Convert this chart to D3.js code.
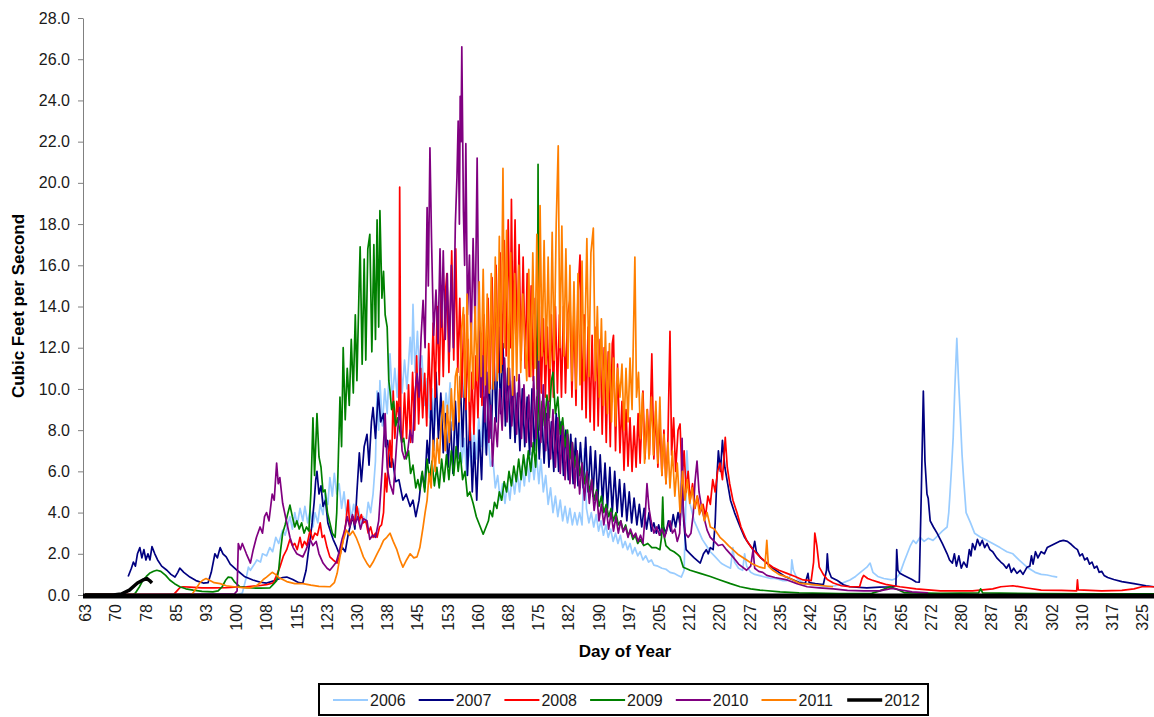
<!DOCTYPE html>
<html>
<head>
<meta charset="utf-8">
<script src="https://cdn.jsdelivr.net/npm/d3@7"></script>
<style>
  html, body { margin: 0; padding: 0; background: #fff; }
  svg { display: block; }
</style>
</head>
<body>
<script>
// ---------------- DATA (day of year, cubic feet per second) ----------------
const seriesNames = ["2006", "2007", "2008", "2009", "2010", "2011", "2012"];
const xTickLabels = [63,70,78,85,93,100,108,115,123,130,138,145,153,160,168,175,182,190,197,205,212,220,227,235,242,250,257,265,272,280,287,295,302,310,317,325];
const yTickValues = [0,2,4,6,8,10,12,14,16,18,20,22,24,26,28];

const s2006 = [[63,0],[101,0.02],[102,0.1],[103,0.87],[103.5,1.35],[104,1.2],[105,1.5],[105.6,1.7],[106.5,1.6],[107,2.0],[108,1.9],[108.8,2.3],[109.5,2.1],[110.3,2.8],[111,2.5],[112,3.15],[112.6,2.9],[113.8,3.8],[114.4,3.2],[115,4.0],[115.6,3.4],[116.3,4.2],[117,3.6],[117.5,4.3],[118.2,3.5],[118.8,4.1],[119.5,3.3],[120,4.0],[120.7,3.5],[121.3,4.4],[122,3.9],[122.5,5.0],[123.2,4.4],[123.7,5.7],[124.3,4.8],[124.8,5.9],[125.4,4.9],[126,5.4],[126.6,4.2],[127.2,5.0],[127.8,3.9],[128.4,4.6],[129,3.7],[129.6,4.4],[130.2,3.6],[130.8,4.2],[131.4,3.4],[132,3.8],[132.6,3.5],[133.2,4.5],[133.8,4.0],[134.4,4.9],[135,6.5],[135.4,9.9],[135.8,8.0],[136.1,10.4],[136.7,8.2],[137.3,10.0],[137.9,8.8],[138.6,11.7],[139.2,9.5],[139.8,11.0],[140.4,9.6],[141,12.0],[141.6,9.8],[142.2,11.4],[142.8,10.0],[143.6,12.5],[144,11.2],[144.3,14.1],[144.8,10.8],[145.4,12.8],[146,10.2],[146.5,11.6],[147.2,9.2],[147.8,10.5],[148.4,8.6],[149,10.0],[149.6,8.2],[150.2,9.4],[150.8,8.0],[151.3,9.6],[151.9,8.4],[152.5,9.8],[153,8.8],[153.5,10.3],[154.1,8.2],[154.7,9.0],[155.2,6.8],[155.8,8.4],[156.4,6.4],[157,7.6],[157.6,5.8],[158.2,7.2],[158.8,6.2],[159.4,8.0],[160,6.6],[160.6,8.6],[161.2,7.2],[161.7,9.1],[162.3,6.9],[162.9,7.8],[163.5,6.25],[164.1,6.6],[164.7,5.2],[165.3,5.8],[165.9,4.6],[166.5,5.4],[167.1,4.45],[167.7,5.4],[168.3,4.6],[168.9,5.8],[169.5,4.9],[170.1,6.0],[170.7,5.0],[171.3,6.25],[171.9,5.3],[172.5,6.6],[173.1,5.5],[173.7,6.9],[174.3,5.6],[174.9,6.8],[175.5,5.4],[176,6.6],[176.6,5.0],[177.2,5.8],[177.8,4.4],[178.4,5.2],[179,4.0],[179.6,4.8],[180.2,3.8],[180.8,4.6],[181.4,3.6],[182,4.3],[182.6,3.5],[183.2,4.2],[183.8,3.4],[184.4,4.0],[185,3.4],[185.6,4.0],[186.2,3.4],[186.8,7.1],[187.3,4.2],[187.9,3.5],[188.5,4.0],[189.1,3.3],[189.7,3.9],[190.3,3.1],[190.9,3.6],[191.5,2.9],[192.1,3.4],[192.7,2.8],[193.3,3.2],[193.9,2.6],[194.5,3.0],[195.1,2.5],[195.7,2.9],[196.3,2.3],[196.9,2.6],[197.5,2.2],[198.1,2.5],[198.7,2.0],[199.3,2.3],[200,1.9],[200.6,2.1],[201.3,1.7],[202,1.9],[202.7,1.6],[203.4,1.7],[204,1.45],[205,1.4],[206,1.3],[207,1.25],[208,1.1],[209,1.05],[210,0.95],[210.8,0.87],[211.5,1.2],[212,5.0],[212.2,7.0],[212.6,5.5],[213,4.4],[214,3.6],[215,3.15],[216,2.7],[217,2.4],[218,2.1],[219,1.9],[220.4,1.6],[221,1.5],[222,1.4],[223,1.3],[223.6,2.3],[224,1.6],[225,1.3],[226,1.2],[226.5,2.0],[227,1.4],[228,1.1],[229,1.0],[230,0.95],[231,0.9],[232,0.85],[233,0.8],[234,0.8],[235,0.75],[236,0.7],[237,0.7],[238,1.0],[238.2,1.7],[238.6,1.2],[239.5,0.8],[241,0.6],[243,0.5],[245,0.45],[247,0.4],[249,0.45],[251,0.6],[252.6,0.73],[254,0.9],[255.5,1.15],[256.8,1.35],[257.6,1.55],[258.3,1.1],[259.5,0.9],[261,0.8],[263,0.73],[264,0.8],[265,1.05],[266,1.6],[266.8,2.0],[267.6,2.4],[268.3,2.65],[269,2.5],[270,2.8],[271,2.6],[272,2.75],[273.2,2.65],[274.5,2.9],[275.5,3.1],[276.7,3.3],[277.1,4.0],[277.4,4.9],[277.8,6.2],[278.2,7.65],[278.6,10.0],[279.1,12.45],[279.5,10.5],[280,8.5],[280.4,6.8],[280.8,5.6],[281.4,4.0],[282.5,3.5],[283.5,3.0],[285,2.8],[286.6,2.65],[288,2.5],[289.8,2.3],[291.5,2.1],[293,2.0],[294.5,1.7],[296.5,1.35],[298.5,1.1],[300,1.0],[301.5,0.97],[303,0.9],[304,0.87]];

const s2007 = [[73.7,0.9],[74.5,1.3],[75,1.6],[75.5,1.4],[76,2.0],[76.6,2.3],[77.1,1.8],[77.6,2.2],[78.1,1.7],[78.6,2.0],[79.1,1.7],[79.6,2.35],[80.3,2.0],[81,1.7],[82,1.4],[83.3,1.2],[84.3,1.0],[85.3,0.87],[86,1.1],[86.5,1.3],[87.5,1.1],[89,0.87],[90.5,0.7],[92.3,0.58],[93.5,0.6],[94.3,1.1],[95.2,2.0],[95.8,1.8],[96.5,2.3],[97.2,2.0],[98,1.85],[99,1.5],[100.7,1.2],[102.5,0.9],[104.6,0.73],[106.5,0.62],[108,0.58],[110,0.7],[112,0.85],[113,0.87],[114.5,0.75],[116,0.6],[117,0.58],[117.8,1.2],[118.3,2.0],[118.8,2.7],[119.3,3.5],[119.8,4.5],[120.2,5.6],[120.5,6.0],[121,4.9],[121.5,5.3],[122,4.3],[122.6,4.6],[123.2,3.5],[124,3.0],[124.5,2.7],[125.2,2.4],[126,2.0],[126.8,2.3],[127.5,2.1],[128.2,2.9],[128.8,3.4],[129.4,3.8],[129.9,3.2],[130.4,5.0],[131,6.9],[131.5,5.5],[132.2,7.2],[132.9,7.8],[133.4,6.3],[134,8.4],[134.4,9.1],[135,7.6],[135.7,9.8],[136.3,8.4],[137,8.8],[137.5,7.2],[138,7.5],[138.6,6.2],[139.2,6.6],[140,5.5],[140.8,5.6],[141.8,4.6],[142.6,4.9],[143.6,4.3],[144.3,4.6],[145,3.8],[145.8,4.6],[146.5,5.9],[147.2,5.2],[147.8,7.5],[148.3,6.4],[148.8,9.6],[149.4,7.0],[150,10.8],[150.6,7.6],[151.2,9.8],[151.8,6.9],[152.4,8.8],[153,6.2],[153.6,8.4],[154.2,5.9],[154.8,9.4],[155.4,6.6],[156,10.6],[156.6,7.2],[157.2,11.0],[157.8,5.8],[158.4,8.6],[159,5.0],[159.5,7.4],[160.1,4.6],[160.7,8.0],[161.3,5.6],[161.9,9.6],[162.5,6.8],[163.1,11.0],[163.7,7.6],[164.3,12.0],[164.9,8.4],[165.5,13.0],[166,8.8],[166.6,12.2],[167.2,8.2],[167.8,11.0],[168.4,7.6],[169,10.4],[169.6,7.4],[170.2,9.8],[170.8,7.0],[171.4,10.0],[172,7.2],[172.6,9.6],[173.2,6.8],[173.8,10.0],[174.4,7.0],[175,9.6],[175.6,6.6],[176.2,9.0],[176.8,6.4],[177.4,8.8],[178,6.2],[178.6,8.4],[179.2,6.0],[179.8,8.8],[180.4,6.0],[181,8.4],[181.6,5.8],[182.2,8.0],[182.8,5.6],[183.4,7.8],[184,5.4],[184.6,7.6],[185.2,5.3],[185.8,7.4],[186.5,5.2],[187.1,7.65],[187.7,5.0],[188.3,7.2],[188.9,4.8],[189.5,7.0],[190.1,4.6],[190.7,6.8],[191.3,4.4],[191.9,6.4],[192.5,4.2],[193.1,6.2],[193.7,4.0],[194.3,6.0],[194.9,4.0],[195.5,5.6],[196.1,3.8],[196.7,5.4],[197.3,3.6],[197.9,5.0],[198.5,3.5],[199.1,4.7],[199.8,3.4],[200.4,4.4],[201,3.3],[201.6,4.2],[202.2,3.2],[202.8,4.0],[203.4,3.1],[204,3.5],[204.6,3.0],[205.2,3.4],[205.8,2.9],[206.4,3.3],[207,3.0],[207.6,3.6],[208.2,3.1],[208.8,3.9],[209.4,3.3],[210,4.0],[210.5,3.4],[211,5.9],[211.4,3.6],[212,2.2],[213,2.0],[214,1.8],[215.5,1.55],[216.3,2.0],[217,2.2],[217.5,2.0],[218,2.3],[218.7,2.2],[219.2,3.5],[219.6,5.6],[220,7.0],[220.5,6.0],[221,7.5],[221.6,6.2],[222.3,5.4],[223,4.6],[224,4.0],[225.4,3.3],[226.5,2.8],[227.5,2.5],[228.6,2.2],[229,2.6],[229.4,2.1],[230.5,1.8],[232,1.55],[233.5,1.3],[235,1.1],[236.5,0.9],[238,0.78],[240,0.62],[241.5,0.55],[242.2,1.05],[242.5,0.6],[244,0.55],[246,0.5],[246.8,1.2],[247,2.0],[247.3,1.2],[248,0.85],[249.5,0.7],[251,0.5],[252.6,0.4],[256.8,0.35],[260,0.38],[263,0.4],[264,0.45],[264.2,2.2],[264.5,1.2],[265,1.05],[266,0.95],[267,0.85],[268,0.75],[269,0.63],[269.8,0.62],[270.3,5.0],[270.8,9.9],[271.2,6.5],[271.7,4.9],[272,4.7],[272.5,3.6],[273.3,3.3],[274.2,3.0],[275.5,2.5],[276.7,2.0],[277.3,1.7],[278,1.55],[278.5,2.0],[279,1.4],[279.6,1.9],[280.2,1.3],[280.8,1.6],[281.6,1.35],[282.2,2.2],[282.6,1.9],[283,2.5],[283.6,2.2],[284.2,2.7],[284.8,2.4],[285.4,2.65],[286,2.3],[286.6,2.5],[287.3,2.2],[288,2.1],[289,1.8],[290,1.6],[290.6,1.5],[291.4,1.3],[292,1.5],[292.6,1.1],[293.2,1.3],[294,1.05],[294.8,1.2],[295.5,1.0],[296.5,1.35],[297.2,1.4],[297.6,1.9],[298,1.5],[298.6,2.1],[299.2,1.8],[300,2.1],[300.8,2.0],[301.5,2.3],[302.5,2.4],[303.5,2.5],[304.5,2.6],[305.5,2.65],[306.5,2.6],[307.5,2.45],[308.3,2.3],[309,2.2],[309.6,1.9],[310.2,2.0],[310.8,1.7],[311.4,1.8],[312,1.5],[312.6,1.6],[313.2,1.3],[313.8,1.4],[314.4,1.1],[315,1.15],[315.6,0.95],[316.5,0.85],[318,0.75],[320,0.65],[323,0.55],[326,0.45],[328,0.4]];

const s2008 = [[63,0.02],[85,0.03],[85.8,0.2],[86.5,0.35],[87.3,0.4],[89,0.38],[92,0.35],[95,0.35],[98,0.36],[100,0.38],[103,0.4],[106,0.45],[108,0.5],[109.6,0.58],[110.4,0.9],[111.3,1.35],[112.2,1.9],[113,2.2],[113.8,2.7],[114.4,2.4],[115,2.5],[115.6,2.2],[116.3,2.8],[116.8,2.3],[117.4,2.6],[118,2.4],[118.8,3.15],[119.4,2.7],[120,3.0],[120.6,2.9],[121.3,3.5],[121.8,2.8],[122.3,2.9],[123,2.3],[123.7,1.85],[124.5,1.7],[125.5,1.55],[126.3,2.0],[127,2.7],[127.6,3.4],[128.2,4.6],[128.6,3.4],[129.2,3.8],[129.8,3.5],[130.4,4.3],[131,3.6],[131.5,3.9],[132,3.5],[132.6,3.6],[133.2,3.0],[133.8,3.3],[134.4,2.8],[135,3.0],[135.4,2.8],[136,3.3],[136.5,3.4],[137,4.0],[137.4,5.9],[137.8,5.0],[138.2,6.8],[138.6,7.5],[139,6.2],[139.4,9.9],[139.8,7.6],[140.3,9.4],[140.8,8.6],[141,19.8],[141.3,8.0],[141.7,7.5],[142.2,9.8],[142.7,7.6],[143.2,10.2],[143.7,7.4],[144.2,10.8],[144.7,8.0],[145.2,11.6],[145.7,8.3],[146.2,11.0],[146.7,8.6],[147.2,10.75],[147.7,8.2],[148.2,12.2],[148.7,9.0],[149.3,13.2],[149.8,9.6],[150.3,14.0],[150.8,10.2],[151.3,15.0],[151.8,10.6],[152.3,14.6],[152.7,15.6],[153.2,10.8],[153.9,16.7],[154.4,11.4],[154.9,16.8],[155.4,10.8],[155.9,14.4],[156.4,9.6],[156.9,13.6],[157.4,9.0],[157.9,12.4],[158.4,7.5],[158.9,10.8],[159.4,7.8],[159.9,11.6],[160.4,8.6],[160.9,12.8],[161.4,9.2],[161.9,13.6],[162.4,9.6],[162.9,14.4],[163.4,10.0],[163.9,15.4],[164.4,10.4],[164.9,16.0],[165.4,10.8],[165.9,16.6],[166.4,11.2],[166.9,17.2],[167.4,11.6],[167.9,18.2],[168.4,12.0],[168.7,19.2],[169.1,12.2],[169.6,18.2],[170.1,11.8],[170.6,17.0],[171.1,11.4],[171.6,16.4],[172.1,11.0],[172.6,15.6],[173.1,10.6],[173.6,15.0],[174.1,10.4],[174.6,14.4],[175.1,10.0],[175.6,14.0],[176.1,9.8],[176.6,13.4],[177.1,9.6],[177.6,13.0],[178.1,9.4],[178.6,13.6],[179.1,9.6],[179.6,14.0],[180.1,9.8],[180.6,13.6],[181.1,9.6],[181.6,14.0],[182.1,9.8],[182.6,13.6],[183.2,14.3],[183.7,9.6],[184.2,13.8],[184.7,9.2],[185.2,14.6],[185.7,16.5],[186.2,9.0],[186.7,13.6],[187.2,8.6],[187.7,13.0],[188.2,8.4],[188.7,12.6],[189.2,8.0],[189.7,13.0],[190.2,8.2],[190.7,12.4],[191.2,7.8],[191.7,12.0],[192.2,7.4],[192.7,11.8],[193.2,7.2],[193.7,12.2],[194,12.6],[194.5,7.0],[195,11.2],[195.6,6.9],[196.1,9.4],[196.6,6.05],[197.1,9.0],[197.6,6.25],[198.1,8.6],[198.6,6.0],[199.1,8.2],[199.6,6.2],[200.1,8.8],[200.6,6.4],[201.3,9.9],[201.8,6.6],[202.4,9.0],[202.9,6.8],[203.5,11.7],[204,6.6],[204.5,9.0],[205,6.2],[205.5,8.4],[206,5.8],[206.5,8.0],[207,5.4],[207.5,7.6],[208,12.8],[208.4,6.8],[208.9,8.6],[209.4,6.0],[210,8.0],[210.5,8.3],[211,5.6],[211.5,7.0],[212,5.0],[212.5,6.0],[213,4.6],[213.6,5.4],[214.2,4.2],[214.8,4.8],[215.5,4.0],[216.2,4.4],[216.8,3.8],[217.4,4.8],[218,4.4],[218.6,5.6],[219.2,5.0],[219.8,6.0],[220.4,6.4],[221,5.6],[221.7,7.65],[222.2,6.2],[222.8,5.4],[223.6,4.6],[224.6,4.0],[225.6,3.3],[227,2.65],[228.6,2.2],[230.3,1.85],[232,1.55],[233.5,1.35],[235,1.2],[237,1.05],[239,0.9],[241,0.73],[243,0.7],[243.6,1.6],[243.9,3.0],[244.4,2.4],[245,1.35],[246,1.0],[247,0.75],[248.5,0.58],[250.5,0.45],[252.6,0.4],[255,0.4],[255.6,0.8],[256,0.95],[257,0.8],[258,0.73],[260,0.6],[261.8,0.5],[263.5,0.45],[265,0.4],[269,0.3],[275,0.2],[283,0.2],[288,0.3],[290,0.4],[293,0.45],[296.5,0.34],[300,0.24],[305,0.22],[308.8,0.2],[309,0.73],[309.2,0.25],[315,0.2],[320,0.22],[323,0.3],[325,0.4],[328,0.4]];

const s2009 = [[63,0.02],[75,0.03],[75.5,0.1],[76.5,0.4],[77.4,0.73],[78.2,0.9],[79,1.05],[80,1.15],[80.8,1.2],[81.8,1.15],[83,0.95],[84,0.73],[85.2,0.55],[86.5,0.4],[88,0.3],[89.8,0.24],[92,0.18],[94.7,0.15],[96,0.2],[97,0.4],[97.8,0.7],[98.5,0.87],[99.3,0.85],[100,0.65],[101.4,0.4],[103,0.36],[104.6,0.34],[106.5,0.33],[108.8,0.34],[109.6,0.5],[110.5,0.7],[111,1.2],[111.5,2.2],[112,3.0],[112.6,3.4],[113.2,3.9],[113.8,4.36],[114.4,3.8],[115,3.3],[115.5,3.6],[116.1,3.2],[116.7,3.5],[117.3,3.0],[117.9,3.3],[118.5,3.1],[119,5.0],[119.5,8.6],[119.9,5.8],[120.5,8.8],[121,6.7],[121.5,6.2],[122,5.0],[122.5,5.1],[123.1,4.0],[123.7,3.5],[124.3,3.0],[125,2.8],[125.4,4.0],[125.7,5.9],[126.2,9.6],[126.6,7.2],[127,12.0],[127.5,8.5],[128,11.0],[128.5,9.2],[129,12.4],[129.5,9.8],[130,13.6],[130.4,10.4],[130.9,14.6],[131.2,16.9],[131.7,11.2],[132.2,16.3],[132.6,11.4],[133.1,16.8],[133.6,17.5],[134.1,11.8],[134.6,17.0],[135,12.4],[135.4,18.2],[135.8,13.0],[136.1,18.65],[136.6,14.4],[137,15.7],[137.4,13.6],[137.9,13.0],[138.3,10.4],[138.6,9.9],[139,9.0],[139.5,9.4],[140,8.2],[140.5,8.6],[141,8.0],[141.5,7.4],[142,7.6],[142.6,6.6],[143.2,7.0],[143.7,5.9],[144.3,6.3],[145,5.2],[145.5,5.6],[146,5.1],[146.6,6.0],[147.2,5.0],[147.8,6.6],[148.4,5.6],[149,6.5],[149.6,5.3],[150.2,6.2],[150.8,5.2],[151.4,6.6],[152,5.5],[152.6,6.8],[153.2,5.6],[153.8,7.0],[154.4,5.8],[155,7.2],[155.5,6.0],[156,6.9],[156.6,5.6],[157.2,6.0],[157.8,4.8],[158.4,5.0],[159.2,4.45],[160,3.8],[160.8,3.4],[161.7,2.95],[162.4,3.3],[163,3.6],[163.4,4.1],[164,3.8],[164.5,4.5],[165.1,4.2],[165.7,5.0],[166.3,4.6],[166.9,5.5],[167.5,5.0],[168.1,6.0],[168.7,5.3],[169.3,6.25],[169.9,5.5],[170.5,6.6],[171.1,5.6],[171.7,6.8],[172.3,5.8],[172.9,7.0],[173.5,6.0],[174.1,7.4],[174.7,6.2],[175.1,8.0],[175.3,20.9],[175.5,9.0],[175.8,8.0],[176.3,9.4],[176.9,8.2],[177.5,9.7],[178.1,8.6],[178.6,10.4],[179,10.8],[179.6,8.8],[180.2,9.6],[180.8,7.8],[181.4,8.6],[182,7.2],[182.6,8.0],[183.2,6.6],[183.8,7.4],[184.4,6.2],[185,6.9],[185.6,5.8],[186.2,6.4],[186.8,5.4],[187.4,6.0],[188,5.0],[188.6,5.6],[189.2,4.6],[189.8,5.1],[190.4,4.3],[191,4.8],[191.6,4.0],[192.2,4.4],[192.8,3.8],[193.4,4.2],[194,3.6],[194.6,4.0],[195.2,3.4],[195.8,3.6],[196.4,3.1],[197,3.4],[197.6,2.9],[198.2,3.1],[198.8,2.7],[199.4,2.9],[200,2.5],[200.6,2.7],[201.5,2.4],[202.5,2.5],[203.5,2.3],[204.5,2.3],[205.5,2.2],[205.9,2.8],[206.2,4.75],[206.5,2.9],[207,2.4],[208,2.2],[209,2.1],[210,1.95],[210.5,1.85],[211.3,1.35],[213,1.2],[215.5,1.05],[218,0.9],[220.4,0.73],[223,0.55],[225.4,0.4],[228,0.3],[230.3,0.24],[235.3,0.15],[240,0.1],[250,0.07],[258,0.08],[260,0.2],[262.5,0.4],[264,0.3],[266,0.12],[275,0.08],[284.5,0.1],[285,0.3],[285.5,0.1],[300,0.07],[315,0.05],[328,0.05]];

const s2010 = [[63,0.02],[100,0.05],[100.7,0.2],[101,2.5],[101.5,2.2],[102,2.5],[103,2.0],[104,1.55],[104.7,2.2],[105.5,2.8],[106.4,3.3],[107,3.0],[107.5,3.8],[108,4.0],[108.6,3.6],[109.4,4.9],[109.9,4.6],[110.5,6.4],[110.9,5.4],[111.3,5.7],[112,4.45],[112.8,3.7],[113.8,2.8],[114.6,2.3],[115.5,2.0],[117,1.85],[117.8,2.2],[118.8,2.7],[119.5,2.4],[120.3,2.6],[121,2.0],[122,1.55],[123,1.3],[123.7,1.2],[124.5,1.4],[125.3,1.6],[126,2.1],[126.7,2.7],[127.3,3.1],[128,3.8],[128.6,3.3],[129.3,3.9],[129.9,3.4],[130.6,3.8],[131.3,3.2],[132,3.7],[132.9,3.6],[133.6,2.7],[134.3,2.9],[135,2.8],[135.8,3.6],[136.6,5.9],[137.4,8.8],[137.9,6.2],[138.6,5.4],[139.4,4.9],[140.3,7.5],[141,9.1],[141.6,7.0],[142.2,6.6],[143,7.0],[143.6,8.0],[144.2,7.4],[144.8,9.8],[145.3,10.75],[145.8,9.6],[146.3,12.5],[146.8,14.3],[147.3,12.0],[147.8,18.8],[148.1,15.0],[148.5,21.7],[148.9,17.2],[149.4,12.6],[150,14.8],[150.5,12.2],[151,16.8],[151.4,13.0],[151.8,16.7],[152.3,12.4],[152.8,15.6],[153.3,11.8],[153.8,16.0],[154.3,12.0],[154.8,18.0],[155.2,20.3],[155.5,23.0],[155.8,18.0],[156,24.2],[156.2,22.0],[156.4,26.6],[156.8,18.6],[157.1,16.0],[157.4,21.9],[157.8,13.6],[158.3,16.5],[158.7,12.0],[159.2,17.3],[159.7,13.0],[160.2,21.2],[160.6,13.3],[161.1,9.6],[161.6,11.6],[162.1,8.4],[162.6,10.8],[163.1,7.4],[163.6,9.2],[164,6.25],[164.6,8.6],[165.2,7.2],[165.8,10.0],[166.4,8.0],[167,11.5],[167.6,8.4],[168.2,11.0],[168.8,8.2],[169.4,10.6],[170,7.8],[170.6,10.7],[171.2,7.6],[171.8,10.2],[172.4,7.4],[173,9.7],[173.6,7.2],[174.2,10.6],[174.8,7.6],[175.4,11.6],[176,7.4],[176.6,10.2],[177.2,7.0],[177.8,9.4],[178.4,6.6],[179,9.0],[179.6,6.2],[180.2,8.6],[180.8,5.9],[181.4,8.2],[182,5.6],[182.6,7.8],[183.2,5.4],[183.8,7.4],[184.4,5.2],[185,7.0],[185.6,4.9],[186.2,6.4],[186.8,4.6],[187.4,6.0],[188,4.45],[188.6,5.6],[189.2,4.1],[189.8,5.0],[190.4,3.6],[191,4.4],[191.6,3.4],[192.2,4.2],[192.8,3.2],[193.4,4.0],[194,3.1],[194.6,3.8],[195.2,3.0],[195.8,3.6],[196.4,3.05],[197,3.3],[197.6,2.8],[198.2,3.2],[198.9,2.8],[199.5,3.0],[200.1,2.6],[200.7,2.9],[201.3,2.5],[201.9,4.0],[202.3,5.4],[202.8,4.2],[203.3,3.6],[204,3.0],[204.7,3.3],[205.4,2.9],[206,3.2],[206.7,2.8],[207.4,3.3],[208,3.6],[208.6,3.0],[209.2,3.2],[209.8,2.6],[210.4,3.0],[210.8,5.0],[211,7.6],[211.3,4.0],[211.8,3.0],[212.5,2.8],[213.2,3.0],[213.8,4.0],[214.2,5.5],[214.7,6.5],[215.2,5.0],[215.8,4.3],[216.5,3.7],[217.2,3.15],[218,2.8],[219,2.6],[220,2.4],[221,2.45],[222,2.2],[223.6,1.85],[225,1.5],[227,1.2],[228,1.4],[228.6,2.2],[229,1.3],[230,1.15],[231,1.1],[232,0.95],[234,0.85],[237,0.73],[239.5,0.55],[242,0.4],[245,0.35],[248.5,0.3],[252,0.22],[256,0.2],[260,0.2],[263,0.32],[265,0.25],[268,0.15],[272,0.1]];

const s2011 = [[63,0.02],[89.5,0.03],[90.5,0.3],[91.5,0.6],[92.3,0.73],[93,0.8],[94,0.7],[95,0.6],[96.5,0.55],[98,0.45],[100,0.4],[102,0.36],[104,0.35],[105.5,0.45],[106.4,0.58],[107.2,0.75],[108,0.87],[108.8,1.0],[109.4,1.1],[110.2,1.0],[111,0.85],[113,0.65],[115,0.55],[117,0.55],[119,0.48],[121,0.42],[123.7,0.4],[124.8,0.6],[125.5,1.05],[126.2,1.85],[127,2.65],[127.8,3.15],[128.6,2.9],[129.4,3.1],[130.2,2.8],[131,2.4],[132,1.85],[133,1.5],[133.6,1.35],[134.4,1.6],[135.4,2.0],[136.2,2.3],[137,2.65],[137.8,2.8],[138.6,3.0],[139.4,2.6],[140.3,2.2],[141.1,1.7],[141.8,1.35],[142.7,1.7],[143.6,2.0],[144.5,1.8],[145.3,1.85],[146,2.3],[146.8,3.3],[147.3,4.0],[147.8,4.6],[148.3,5.9],[148.8,5.2],[149.3,7.5],[149.8,6.0],[150.3,7.6],[150.8,6.4],[151.3,8.4],[151.8,9.4],[152.3,7.0],[152.8,9.2],[153.3,7.4],[153.8,10.0],[154.3,8.0],[154.8,10.6],[155.2,11.0],[155.7,8.4],[156.3,12.8],[156.8,13.95],[157.2,9.6],[157.7,14.6],[158.2,9.4],[158.7,13.2],[159.2,10.0],[159.7,14.0],[160.2,10.4],[160.7,15.2],[161.2,10.6],[161.7,15.8],[162.2,10.2],[162.7,14.6],[163.2,9.8],[163.7,15.6],[164.2,10.0],[164.7,16.4],[165.2,10.4],[165.7,17.4],[166.1,10.8],[166.6,20.7],[167,12.0],[167.5,17.7],[168,10.2],[168.5,16.6],[169,9.7],[169.5,15.6],[170,10.4],[170.5,16.0],[171,10.8],[171.5,14.6],[172,12.4],[172.5,10.4],[173,15.8],[173.5,10.6],[174,16.6],[174.5,11.0],[175,17.5],[175.5,11.4],[175.8,18.9],[176.3,11.6],[176.8,17.2],[177.3,11.2],[177.8,16.4],[178.3,11.0],[178.8,17.6],[179.3,11.4],[179.8,18.0],[180.3,21.8],[180.7,12.0],[181.2,17.9],[181.7,11.6],[182.2,16.8],[182.7,11.0],[183.2,16.0],[183.7,10.4],[184.2,15.2],[184.7,10.0],[185.2,15.6],[185.7,10.2],[186.2,16.2],[186.7,10.4],[187.4,17.3],[187.9,10.6],[188.4,16.6],[189,17.8],[189.5,10.4],[190,14.0],[190.5,9.6],[191,13.4],[191.5,9.2],[192,12.8],[192.5,8.8],[193,12.2],[193.5,8.4],[194,11.5],[194.5,8.2],[195,11.0],[195.6,9.6],[196.1,11.2],[196.6,8.0],[197.1,11.0],[197.6,8.4],[198.1,11.5],[198.6,9.0],[199.3,16.4],[199.7,9.6],[200.2,10.8],[200.7,7.6],[201.2,9.8],[201.7,6.4],[202.3,9.0],[202.8,6.6],[203.4,9.6],[203.9,6.8],[204.5,9.4],[205,6.4],[205.5,9.6],[206,5.8],[206.5,7.8],[207,5.4],[207.5,7.4],[208,5.2],[208.6,7.0],[209.2,4.8],[209.8,6.4],[210.5,4.0],[211.1,6.0],[211.7,4.6],[212.3,5.6],[212.9,4.45],[213.5,5.2],[214.1,4.2],[214.7,4.8],[215.3,3.9],[215.9,4.4],[216.5,3.6],[217.2,4.0],[218,3.3],[219,3.2],[220.4,2.8],[221.5,2.6],[222.5,2.4],[223.6,2.2],[225,1.95],[227,1.7],[228.5,1.5],[230.3,1.35],[231.5,1.3],[232,2.65],[232.4,1.4],[233.5,1.2],[235,1.0],[237,0.87],[240,0.58],[243.5,0.5],[246,0.45],[248.4,0.4]];

const s2012 = [[63,0],[70,0],[72,0.05],[74,0.24],[76,0.58],[77.4,0.73],[78.3,0.8],[79,0.7],[79.6,0.58]];

const seriesValues = [s2006, s2007, s2008, s2009, s2010, s2011, s2012];
const seriesColors = ["#99CCFF", "#000080", "#FF0000", "#008000", "#800080", "#FF7F00", "#000000"];
const seriesWidths = [1.7, 1.7, 1.7, 1.7, 1.7, 1.7, 3.5];

// ---------------- CHART ----------------
const W = 1154, H = 717;
const FONT = "'Liberation Sans', Arial, Helvetica, sans-serif";

const svg = d3.select("body").append("svg")
  .attr("width", W).attr("height", H)
  .attr("viewBox", `0 0 ${W} ${H}`);

svg.append("rect").attr("width", W).attr("height", H).attr("fill", "#fff");

const x = d3.scaleLinear().domain([63, 325]).range([85, 1142]);
const y = d3.scaleLinear().domain([0, 28]).range([595, 18]);

svg.append("clipPath").attr("id", "plotclip")
  .append("rect").attr("x", 83).attr("y", 0).attr("width", W - 83).attr("height", 597);

// Y axis
const yAxis = d3.axisLeft(y)
  .tickValues(yTickValues)
  .tickFormat(d3.format(".1f"))
  .tickSize(5)
  .tickSizeOuter(0)
  .tickPadding(8);
const gy = svg.append("g").attr("transform", "translate(83,0)").call(yAxis);
gy.select(".domain").attr("stroke", "#808080").attr("stroke-width", 1);
gy.selectAll(".tick line").attr("stroke", "#808080");
gy.selectAll(".tick text")
  .attr("font-family", FONT).attr("font-size", 16).attr("fill", "#1a1a1a");

// Lines
const line = d3.line().x(d => x(d[0])).y(d => y(d[1]));
const gLines = svg.append("g").attr("clip-path", "url(#plotclip)");
seriesValues.forEach((vals, i) => {
  gLines.append("path")
    .datum(vals)
    .attr("d", line)
    .attr("fill", "none")
    .attr("stroke", seriesColors[i])
    .attr("stroke-width", seriesWidths[i])
    .attr("stroke-linejoin", "round");
});

// X axis (category style labels, every 30 readings)
const xTickPositions = xTickLabels.map((d, i) => 63 + i * (325 - 63) / (xTickLabels.length - 1));
const xAxis = d3.axisBottom(x)
  .tickValues(xTickPositions)
  .tickFormat((d, i) => xTickLabels[i])
  .tickSize(0)
  .tickSizeOuter(0);
const gx = svg.append("g").attr("transform", "translate(0,596)").call(xAxis);
gx.select(".domain").attr("stroke", "#000").attr("stroke-width", 5)
  .attr("d", `M${x.range()[0] - 2},0H${W}`);
gx.selectAll(".tick text")
  .attr("font-family", FONT).attr("font-size", 16).attr("fill", "#1a1a1a")
  .attr("transform", "rotate(-90)")
  .attr("text-anchor", "end")
  .attr("x", -8).attr("y", 0).attr("dy", "0.35em");

// Axis titles
svg.append("text")
  .attr("x", 625).attr("y", 657)
  .attr("text-anchor", "middle")
  .attr("font-family", FONT).attr("font-size", 17).attr("font-weight", "bold")
  .text("Day of Year");

svg.append("text")
  .attr("transform", "translate(24,306) rotate(-90)")
  .attr("text-anchor", "middle")
  .attr("font-family", FONT).attr("font-size", 17).attr("font-weight", "bold")
  .text("Cubic Feet per Second");

// Legend
const lg = svg.append("g");
lg.append("rect")
  .attr("x", 319).attr("y", 684).attr("width", 609).attr("height", 31)
  .attr("fill", "#fff").attr("stroke", "#000").attr("stroke-width", 2);
seriesNames.forEach((name, i) => {
  const lx = 333 + i * 85.7;
  lg.append("line")
    .attr("x1", lx).attr("x2", lx + 35)
    .attr("y1", 700).attr("y2", 700)
    .attr("stroke", seriesColors[i])
    .attr("stroke-width", i === 6 ? 3.5 : 2);
  lg.append("text")
    .attr("x", lx + 37).attr("y", 706)
    .attr("font-family", FONT).attr("font-size", 16).attr("fill", "#1a1a1a")
    .text(name);
});
</script>
</body>
</html>
